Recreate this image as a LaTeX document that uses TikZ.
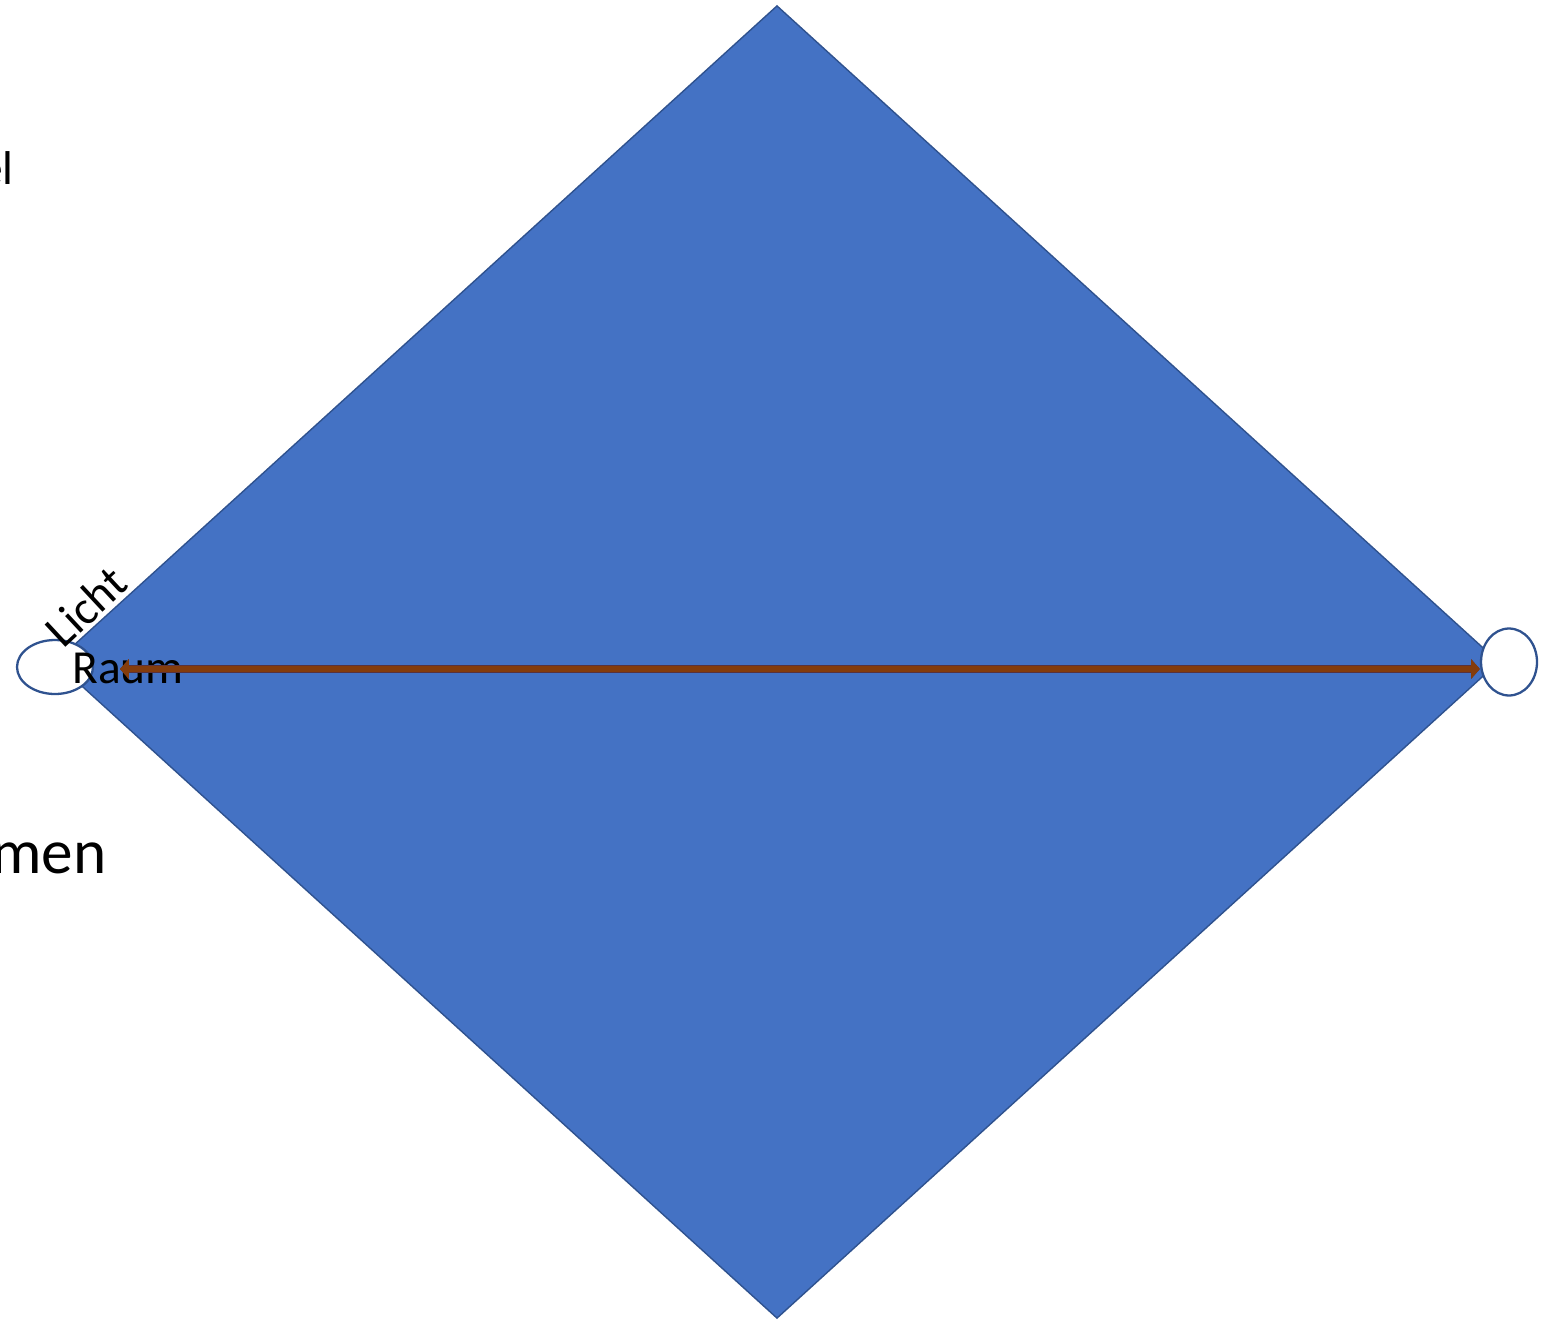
\documentclass[tikz,border=0pt]{standalone}
\usepackage{fontspec}
\setmainfont{Carlito}
\usetikzlibrary{shapes.geometric, arrows.meta, positioning}
\definecolor{raumblue}{RGB}{68,114,196}
\definecolor{raumedge}{RGB}{47,82,143}
\definecolor{pfeilbrown}{RGB}{132,60,12}
\definecolor{pfeildark}{RGB}{90,50,60}

\begin{document}
\begin{tikzpicture}[
        x=0.02cm, y=-0.02cm,
        raum/.style={diamond, draw=raumedge, line width=0.8pt, fill=raumblue, inner sep=0pt, minimum width=28.88cm, minimum height=26.26cm},
        punkt/.style={ellipse, draw=raumedge, line width=1.3pt, fill=white, inner sep=0pt},
        lbl/.style={font=\fontsize{27}{31}\selectfont, inner sep=0pt},
        arr/.style={{Triangle[length=5pt, width=11pt]}-{Triangle[length=5pt, width=11pt]}, line width=3.4pt, draw=pfeilbrown,
            preaction={draw=pfeildark, line width=4.6pt}},
    ]
    \useasboundingbox (0,0) rectangle (1548,1321);
    % the diamond
    \node[raum] (kegel) at (777,662) {};

    % end points left and right
    \node[punkt, minimum width=1.52cm, minimum height=1.08cm] (links) at (55,667) {};
    \node[punkt, minimum width=1.12cm, minimum height=1.34cm] (rechts) at (1509,662) {};

    % labels
    \node[lbl, rotate=43] (licht) at (86,606) {Licht};
    \node[lbl] (raumtxt) at (128,668) {Raum};
    \node[lbl, anchor=base east] (el) at (14,185) {el};
    \node[lbl, font=\fontsize{36}{40}\selectfont, anchor=base east] (men) at (107,873) {men};

    % arrow across the diamond
    \coordinate (pfeilA) at (120,669);
    \draw[arr] (pfeilA) -- (rechts.west |- pfeilA);
\end{tikzpicture}
\end{document}
